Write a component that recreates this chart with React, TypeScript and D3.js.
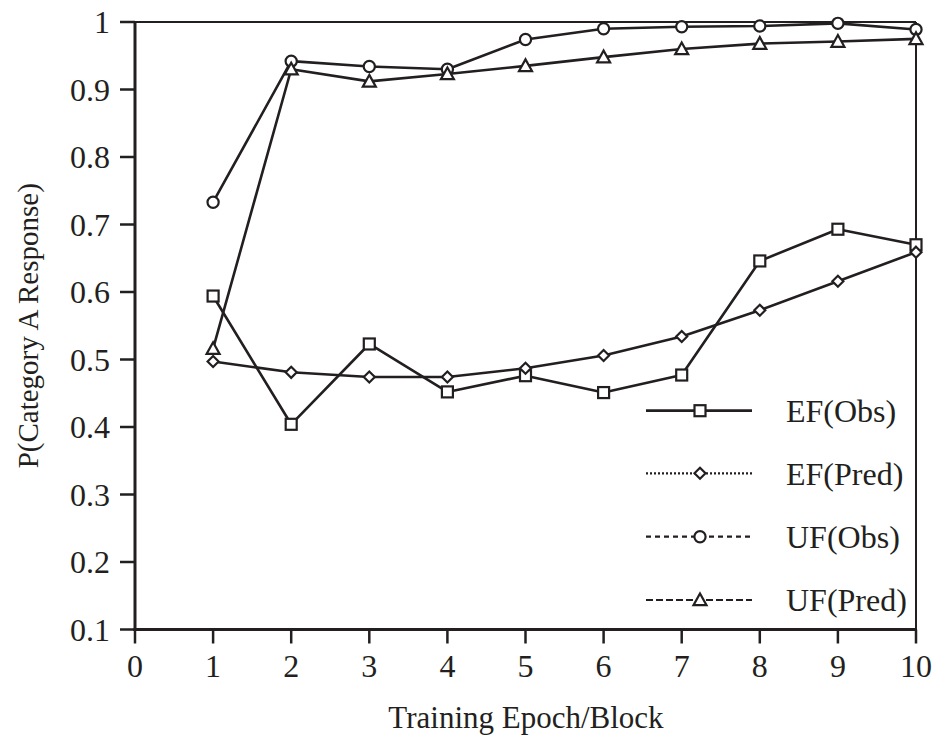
import React from "react";
import * as d3 from "d3";

// Training epochs (x) and observed / predicted response probabilities
const epochs = [1, 2, 3, 4, 5, 6, 7, 8, 9, 10];
const efObs = [0.594, 0.404, 0.523, 0.452, 0.476, 0.451, 0.477, 0.646, 0.693, 0.67];
const efPred = [0.497, 0.481, 0.474, 0.474, 0.487, 0.506, 0.534, 0.573, 0.616, 0.659];
const ufObs = [0.733, 0.942, 0.934, 0.93, 0.974, 0.99, 0.993, 0.994, 0.998, 0.989];
const ufPred = [0.516, 0.93, 0.912, 0.923, 0.935, 0.948, 0.96, 0.968, 0.971, 0.975];

const xTicks = [0, 1, 2, 3, 4, 5, 6, 7, 8, 9, 10];
const yTicks = [0.1, 0.2, 0.3, 0.4, 0.5, 0.6, 0.7, 0.8, 0.9, 1];

const seriesNames = ["EF(Obs)", "EF(Pred)", "UF(Obs)", "UF(Pred)"];
const seriesValues = [efObs, efPred, ufObs, ufPred];
const seriesMarkers = ["square", "diamond", "circle", "triangle"];
const legendDash = [null, "2,2", "5,4", "7,3"];

const INK = "#231f20";
const FONT = "'Liberation Serif', 'Times New Roman', serif";

const W = 936;
const H = 736;
const left = 135;
const right = 916;
const top = 22;
const bottom = 629.5;

function Marker({ kind, x, y }: { kind: string; x: number; y: number }) {
  const common = { fill: "#fff", stroke: INK, strokeWidth: 2.2 };
  if (kind === "square") {
    const s = 11;
    return <rect x={x - s / 2} y={y - s / 2} width={s} height={s} {...common} />;
  }
  if (kind === "circle") {
    return <circle cx={x} cy={y} r={5.6} {...common} />;
  }
  if (kind === "diamond") {
    const r = 5.5;
    return (
      <path
        d={`M${x},${y - r}L${x + r},${y}L${x},${y + r}L${x - r},${y}Z`}
        {...common}
      />
    );
  }
  // triangle
  const r = 6.5;
  return (
    <path
      d={`M${x},${y - r}L${x + r},${y + r * 0.8}L${x - r},${y + r * 0.8}Z`}
      {...common}
    />
  );
}

export default function App() {
  const x = d3.scaleLinear().domain([0, 10]).range([left, right]);
  const y = d3.scaleLinear().domain([0.1, 1]).range([bottom, top]);

  const line = d3
    .line<number>()
    .x((_, i) => x(epochs[i]))
    .y((v) => y(v));

  const legendX0 = 646;
  const legendX1 = 752;
  const legendMid = 700;
  const legendText = 786;
  const legendRows = [410.7, 473.3, 536.7, 600];

  return (
    <svg
      width={W}
      height={H}
      style={{ position: "absolute", left: 0, top: 0, background: "#fff" }}
      fontFamily={FONT}
    >
      {/* plot frame */}
      <line x1={left} x2={right} y1={top} y2={top} stroke={INK} strokeWidth={2} />
      <line x1={right} x2={right} y1={top} y2={bottom} stroke={INK} strokeWidth={2} />
      <line x1={left} x2={left} y1={top} y2={bottom + 1.5} stroke={INK} strokeWidth={3} />
      <line x1={left - 1.5} x2={right + 1} y1={bottom} y2={bottom} stroke={INK} strokeWidth={3} />

      {/* y axis ticks */}
      {yTicks.map((t) => (
        <g key={"y" + t}>
          <line x1={left - 15} x2={left} y1={y(t)} y2={y(t)} stroke={INK} strokeWidth={2.5} />
          <text
            x={110}
            y={y(t)}
            dy="0.35em"
            textAnchor="end"
            fontSize={32}
            fill={INK}
          >
            {d3.format("~g")(t)}
          </text>
        </g>
      ))}

      {/* x axis ticks */}
      {xTicks.map((t) => (
        <g key={"x" + t}>
          <line x1={x(t)} x2={x(t)} y1={bottom} y2={bottom + 14} stroke={INK} strokeWidth={2.5} />
          <text x={x(t)} y={677} textAnchor="middle" fontSize={32} fill={INK}>
            {t}
          </text>
        </g>
      ))}

      {/* axis titles */}
      <text x={526} y={728} textAnchor="middle" fontSize={31} fill={INK}>
        Training Epoch/Block
      </text>
      <text
        transform={`translate(38,${(top + bottom) / 2}) rotate(-90)`}
        textAnchor="middle"
        fontSize={29}
        fill={INK}
      >
        P(Category A Response)
      </text>

      {/* series lines */}
      {seriesValues.map((vals, si) => (
        <path
          key={"l" + si}
          d={line(vals) || ""}
          fill="none"
          stroke={INK}
          strokeWidth={2.6}
          strokeLinejoin="round"
        />
      ))}

      {/* series markers */}
      {seriesValues.map((vals, si) =>
        vals.map((v, i) => (
          <Marker key={`m${si}-${i}`} kind={seriesMarkers[si]} x={x(epochs[i])} y={y(v)} />
        ))
      )}

      {/* legend */}
      {seriesNames.map((name, si) => (
        <g key={"lg" + si}>
          <line
            x1={legendX0}
            x2={legendX1}
            y1={legendRows[si]}
            y2={legendRows[si]}
            stroke={INK}
            strokeWidth={si === 0 ? 2.8 : 2.2}
            strokeDasharray={legendDash[si] || undefined}
          />
          <Marker kind={seriesMarkers[si]} x={legendMid} y={legendRows[si]} />
          <text
            x={legendText}
            y={legendRows[si]}
            dy="0.35em"
            fontSize={32}
            fill={INK}
          >
            {name}
          </text>
        </g>
      ))}
    </svg>
  );
}
